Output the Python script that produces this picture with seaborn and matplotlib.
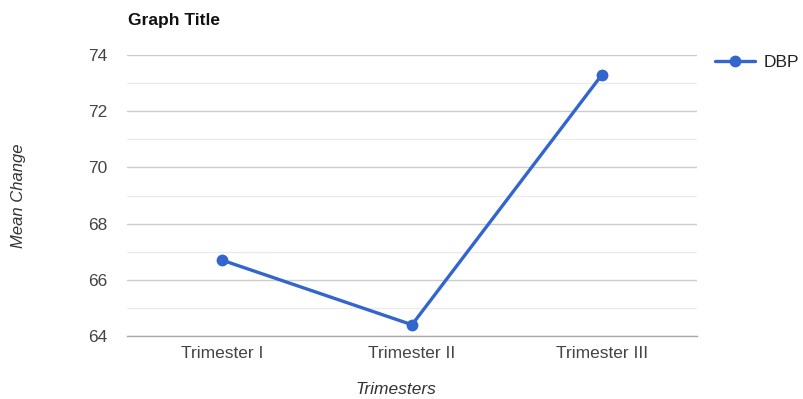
import matplotlib
matplotlib.use("Agg")
import matplotlib.pyplot as plt
import seaborn as sns
import pandas as pd
from matplotlib.ticker import MultipleLocator

categories = ["Trimester I", "Trimester II", "Trimester III"]
dbp_values = [66.7, 64.4, 73.3]
series_name = "DBP"

df = pd.DataFrame({"Trimester": categories, "Mean": dbp_values, "Series": series_name})

sns.set_style("white")
plt.rcParams['font.family'] = ['Liberation Sans', 'DejaVu Sans']

fig = plt.figure(figsize=(8.04, 3.99), dpi=100)
ax = fig.add_axes([127/804, 1-336/399, 570/804, (336-55)/399])

color = "#3366cc"
sns.lineplot(data=df, x="Trimester", y="Mean", hue="Series", palette=[color],
             marker="o", markersize=8.5, markeredgewidth=0, linewidth=2.4,
             sort=False, ax=ax)

ax.set_xlim(-0.5, 2.5)
ax.set_ylim(64, 74)
ax.yaxis.set_major_locator(MultipleLocator(2))
ax.yaxis.set_minor_locator(MultipleLocator(1))
ax.grid(which="major", axis="y", color="#cccccc", linewidth=1)
ax.grid(which="minor", axis="y", color="#ebebeb", linewidth=1)
ax.set_axisbelow(True)
for s in ["top", "right", "left"]:
    ax.spines[s].set_visible(False)
ax.spines["bottom"].set_color("#aaaaaa")
ax.spines["bottom"].set_linewidth(1)
ax.tick_params(axis="both", which="both", length=0, labelsize=12.5, labelcolor="#444444")
ax.tick_params(axis="y", pad=14)
ax.tick_params(axis="x", pad=7)

ax.set_xlabel("Trimesters", fontsize=12.5, style="italic", color="#333333")
ax.xaxis.set_label_coords((396-127)/570, -(390-336)/281, transform=ax.transAxes)
ax.xaxis.label.set_va("center")
ax.set_ylabel("Mean Change", fontsize=12, style="italic", color="#333333")
ax.yaxis.set_label_coords(-(127-19)/570, (336-196)/281, transform=ax.transAxes)
ax.yaxis.label.set_va("center")
fig.text(128/804, 1-20/399, "Graph Title", fontsize=12.5, fontweight="bold",
         color="#111111", va="center", ha="left")

leg = ax.legend(loc="center left", bbox_to_anchor=((715-127)/570, (336-62)/281),
                frameon=False, fontsize=12.5, handlelength=2.3, handletextpad=0.5,
                borderaxespad=0, borderpad=0)
for t in leg.get_texts():
    t.set_color("#222222")

fig.savefig("out.png", dpi=100)
